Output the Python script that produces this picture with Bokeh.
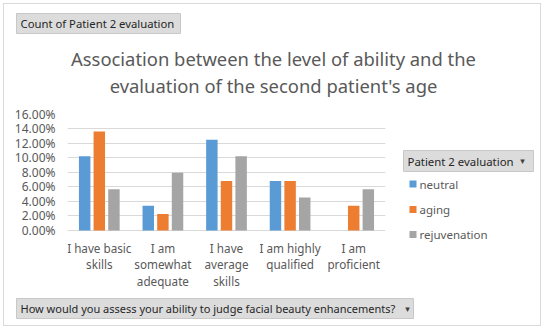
from bokeh.plotting import figure
from bokeh.layouts import column, row
from bokeh.models import ColumnDataSource, FactorRange, NumeralTickFormatter, FixedTicker
from bokeh.core.properties import value
from bokeh.transform import dodge
from bokeh.embed import file_html
from bokeh.resources import INLINE

categories = ["I have basic skills", "I am somewhat adequate", "I have average skills",
              "I am highly qualified", "I am proficient"]
label_line1 = ["I have basic", "I am", "I have", "I am highly", "I am"]
label_line2 = ["skills", "somewhat", "average", "qualified", "proficient"]
label_line3 = ["", "adequate", "skills", "", ""]
neutral = [0.1023, 0.0341, 0.1250, 0.0682, 0.0]
aging = [0.1364, 0.0227, 0.0682, 0.0682, 0.0341]
rejuvenation = [0.0568, 0.0795, 0.1023, 0.0455, 0.0568]
series_names = ["neutral", "aging", "rejuvenation"]
colors = ["#5B9BD5", "#ED7D31", "#A5A5A5"]
y_ticks = [0.0, 0.02, 0.04, 0.06, 0.08, 0.10, 0.12, 0.14, 0.16]

title_lines = ["Association between the level of ability and the",
               "evaluation of the second patient's age"]
top_button = "Count of Patient 2 evaluation"
legend_button = "Patient 2 evaluation"
bottom_button = "How would you assess your ability to judge facial beauty enhancements?"
arrow = "\u25BE"

FONT = "Noto Sans"
GREY = "#595959"
DARK = "#262626"
BTN_FILL = "#DCDCDC"
BTN_LINE = "#C8C8C8"


def blank(width, height, top=0):
    f = figure(width=width, height=height, x_range=(0, width), y_range=(height, top),
               x_axis_location=None, y_axis_location=None, output_backend="svg",
               toolbar_location=None, min_border=0, min_border_top=top)
    f.grid.grid_line_color = None
    f.outline_line_color = None
    return f


def button(f, x0, y0, x1, y1, text, size, arrow_x=None):
    f.quad(left=[x0], right=[x1], top=[y0], bottom=[y1], fill_color=BTN_FILL,
           line_color=BTN_LINE, line_width=1)
    f.text(x=[x0 + 4], y=[(y0 + y1) / 2], text=[text], text_font=value(FONT),
           text_font_size=size, text_color=DARK, text_baseline="middle", text_align="left")
    if arrow_x is not None:
        f.text(x=[arrow_x], y=[(y0 + y1) / 2], text=[arrow], text_font=value("DejaVu Sans"),
               text_font_size="9px", text_color="#404040", text_baseline="middle",
               text_align="center")


# ---------- header ----------
header = blank(536, 96)
button(header, 12, 9, 176, 29, top_button, "11.3px")
header.text(x=[269, 269], y=[54, 80.5], text=title_lines, text_font=value(FONT),
            text_font_size="18.4px", text_color=GREY, text_align="center",
            text_baseline="middle")

# ---------- main chart ----------
src = ColumnDataSource(dict(cat=categories, neutral=neutral, aging=aging,
                            rejuvenation=rejuvenation, l1=label_line1, l2=label_line2,
                            l3=label_line3, zero=[0.0] * len(categories)))

p = figure(width=391, height=189, x_range=FactorRange(*categories), y_range=(-0.0814, 0.16),
           x_axis_location=None, output_backend="svg", toolbar_location=None,
           min_border_left=63, min_border_right=10, min_border_top=14, min_border_bottom=0)
p.outline_line_color = None

for name, col, off in zip(series_names, colors, [-0.23, 0.0, 0.23]):
    p.vbar(x=dodge("cat", off, range=p.x_range), top=name, width=0.18, source=src,
           fill_color=col, line_color=None)

for fld, off in zip(["l1", "l2", "l3"], [17.5, 34, 50.5]):
    p.text(x="cat", y="zero", text=fld, source=src, y_offset=off, text_font=value(FONT),
           text_font_size="11.7px", text_color=GREY, text_align="center",
           text_baseline="middle")

p.yaxis.ticker = FixedTicker(ticks=y_ticks)
p.yaxis.formatter = NumeralTickFormatter(format="0.00%")
p.yaxis.axis_line_color = None
p.yaxis.major_tick_line_color = None
p.yaxis.minor_tick_line_color = None
p.yaxis.major_label_text_font = FONT
p.yaxis.major_label_text_font_size = "12px"
p.yaxis.major_label_text_color = GREY
p.yaxis.major_label_standoff = 6
p.xgrid.grid_line_color = None
p.ygrid.grid_line_color = "#D9D9D9"
p.ygrid.ticker = FixedTicker(ticks=y_ticks)

# ---------- legend ----------
leg = blank(145, 189, top=14)
button(leg, 8, 50, 138, 71, legend_button, "11.4px", arrow_x=127)
ys = [83.5, 109, 134]
leg.rect(x=[17.5] * 3, y=ys, width=7, height=7, fill_color=colors, line_color=None)
leg.text(x=[24] * 3, y=ys, text=series_names, text_font=value(FONT), text_font_size="11.5px",
         text_color=GREY, text_baseline="middle", text_align="left")

# ---------- bottom ----------
bottom = blank(536, 36)
button(bottom, 12, 9, 409, 29, bottom_button, "11px", arrow_x=403)

layout = column(header, row(p, leg, spacing=0), bottom, spacing=0,
                styles={"border": "1px solid #D9D9D9", "background-color": "white",
                        "margin": "3px 0 0 3px"})

open("out.html", "w").write(file_html(layout, INLINE))
